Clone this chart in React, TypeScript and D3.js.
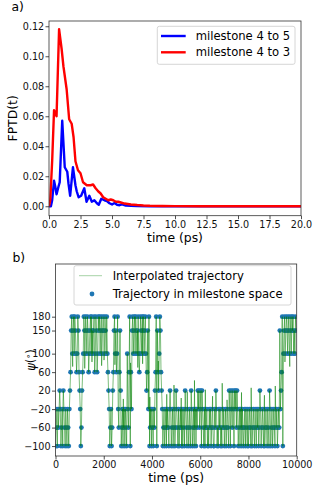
import React, { useEffect, useRef } from "react";
import * as d3 from "d3";

const FONT = "DejaVu Sans, sans-serif";

// a) first passage time distributions (time in ps)
const fptdTime45 = [0, 0.15, 0.25, 0.4, 0.5, 0.6, 0.75, 0.85, 1.05, 1.25, 1.45, 1.55, 1.68, 1.9, 2.1, 2.2, 2.35, 2.55, 2.8, 2.98, 3.2, 3.4, 3.6, 3.8, 3.95, 4.15, 4.4, 4.6, 4.8, 5.0, 5.2, 5.4, 5.6, 5.8, 6.1, 6.5, 7, 8, 20];
const fptd45 = [0, 0, 0.004, 0.017, 0.013, 0.008, 0.013, 0.016, 0.057, 0.026, 0.023, 0.015, 0.007, 0.026, 0.014, 0.01, 0.006, 0.007, 0.012, 0.003, 0.007, 0.003, 0.004, 0.002, 0.001, 0.005, 0.004, 0.0035, 0.002, 0.0012, 0.0022, 0.001, 0.0007, 0.0012, 0.0004, 0.0003, 0.0001, 0, 0];

const fptdTime43 = [0, 0.1, 0.25, 0.4, 0.5, 0.6, 0.8, 1.0, 1.15, 1.4, 1.6, 1.8, 1.95, 2.1, 2.3, 2.5, 2.7, 3.0, 3.3, 3.5, 3.7, 3.9, 4.1, 4.3, 4.5, 4.7, 4.9, 5.1, 5.3, 5.5, 5.7, 6.0, 6.5, 7.0, 7.5, 8.0, 9.0, 10, 12, 20];
const fptd43 = [0, 0.004, 0.03, 0.064, 0.062, 0.06, 0.118, 0.105, 0.093, 0.078, 0.058, 0.055, 0.046, 0.03, 0.024, 0.022, 0.016, 0.014, 0.014, 0.0145, 0.012, 0.01, 0.0085, 0.006, 0.005, 0.004, 0.0045, 0.004, 0.003, 0.003, 0.0025, 0.0018, 0.0012, 0.0008, 0.0005, 0.0003, 0.0002, 0.0001, 0, 0];

const fptdXTicks = [0, 2.5, 5, 7.5, 10, 12.5, 15, 17.5, 20];
const fptdYTicks = [0, 0.02, 0.04, 0.06, 0.08, 0.1, 0.12];

// b) trajectory in milestone space, one code per saved frame
const milestoneCodes = ["a", "b", "c", "d", "e", "f", "g", "h"];
const milestoneAngles = [-100, -60, -20, 20, 60, 100, 150, 180];
const frameStep = 25; // ps between saved frames
const trajectory = [
  "acbacbcdcabcadcbacbacbacdeghfghfhgfefhgedcabdefhgf",
  "hgfhgefghfhgfghefhgefhghfghfghgfhgfhfedcabcabdeghf",
  "gefhcbegdabcabcacbafcbehaecghfghfhgfghfefhgfhghfgh",
  "fdegchabcacbacbdehagedfhgedcabcabcabcbacdcabcabcab",
  "dcbacabcbacabcadcbacbacbadcabcabcacbdcdbcdadcbacab",
  "bcabacbcabcbaacbdcabacbcabacbcabcabcbadcadcbdcadcd",
  "bdcabcacbacbabcacbacabcbacabcbacbacbcabdcabcbacabc",
  "bacbadcabcabcbacbcabcbgcdehafghfghgfhgfhgfhghfgfhg",
].join("");

// excursions of the interpolated angle beyond the milestones
const overshootTimes = [312, 712, 1212, 1512, 1912, 2012, 2462, 2812, 3112, 3412, 3612, 3912, 4262, 4612, 4912, 5212, 5462, 5762, 6212, 6512, 6912, 7112, 7712, 8112, 8662, 9112, 9512, 9712];
const overshootAngles = [-4, 72, 68, 82, 74, 86, 76, 2, 80, 70, 78, 6, 84, 12, 32, 4, 18, 42, 22, 8, 36, 0, 16, 26, 10, 30, 82, 72];

const trajXTicks = [0, 2000, 4000, 6000, 8000, 10000];
const trajYTicks = [180, 150, 100, 60, 20, -20, -60, -100];

const minus = (s: string) => s.replace("-", "\u2212");

function styleAxis(g: any) {
  g.select(".domain").remove();
  g.selectAll(".tick line").attr("stroke", "#222").attr("stroke-width", 0.8);
  g.selectAll(".tick text")
    .attr("font-family", FONT)
    .attr("font-size", 9.6)
    .attr("fill", "#111");
}

function frame(svg: any, l: number, r: number, t: number, b: number) {
  svg
    .append("rect")
    .attr("x", l)
    .attr("y", t)
    .attr("width", r - l)
    .attr("height", b - t)
    .attr("fill", "none")
    .attr("stroke", "#333")
    .attr("stroke-width", 0.8);
}

function drawFptd(svg: any) {
  const m = { left: 49, right: 301, top: 21, bottom: 215.7 };
  const x = d3.scaleLinear().domain([0, 20]).range([m.left, m.right]);
  const y = d3.scaleLinear().domain([-0.0063, 0.1235]).range([m.bottom, m.top]);

  svg
    .append("clipPath")
    .attr("id", "clip-a")
    .append("rect")
    .attr("x", m.left)
    .attr("y", m.top)
    .attr("width", m.right - m.left)
    .attr("height", m.bottom - m.top);

  const line = d3
    .line<number[]>()
    .x(d => x(d[0]))
    .y(d => y(d[1]));

  const series = [
    { t: fptdTime45, v: fptd45, color: "#0000ff", label: "milestone 4 to 5" },
    { t: fptdTime43, v: fptd43, color: "#ff0000", label: "milestone 4 to 3" },
  ];

  series.forEach(s => {
    svg
      .append("path")
      .attr("clip-path", "url(#clip-a)")
      .attr("d", line(s.t.map((t, i) => [t, s.v[i]])))
      .attr("fill", "none")
      .attr("stroke", s.color)
      .attr("stroke-width", 2.4)
      .attr("stroke-linejoin", "round");
  });

  frame(svg, m.left, m.right, m.top, m.bottom);

  svg
    .append("g")
    .attr("transform", `translate(0,${m.bottom})`)
    .call(d3.axisBottom(x).tickValues(fptdXTicks).tickFormat(d3.format(".1f")).tickSize(3.5).tickPadding(1.5))
    .call(styleAxis);

  svg
    .append("g")
    .attr("transform", `translate(${m.left},0)`)
    .call(d3.axisLeft(y).tickValues(fptdYTicks).tickFormat(d3.format(".2f")).tickSize(3.5).tickPadding(1.3))
    .call(styleAxis);

  svg
    .append("text")
    .attr("x", (m.left + m.right) / 2)
    .attr("y", 241.5)
    .attr("text-anchor", "middle")
    .attr("font-family", FONT)
    .attr("font-size", 12.4)
    .text("time (ps)");

  svg
    .append("text")
    .attr("transform", `translate(17,${(m.top + m.bottom) / 2}) rotate(-90)`)
    .attr("text-anchor", "middle")
    .attr("font-family", FONT)
    .attr("font-size", 12.4)
    .text("FPTD(t)");

  svg
    .append("text")
    .attr("x", 11.5)
    .attr("y", 11)
    .attr("font-family", FONT)
    .attr("font-size", 12.4)
    .text("a)");

  // legend
  const lg = svg.append("g");
  lg.append("rect")
    .attr("x", 157.3)
    .attr("y", 26.3)
    .attr("width", 137.7)
    .attr("height", 38)
    .attr("rx", 2)
    .attr("fill", "#fff")
    .attr("fill-opacity", 0.8)
    .attr("stroke", "#ccc")
    .attr("stroke-width", 0.8);
  series.forEach((s, i) => {
    const yy = 36 + i * 16.3;
    lg.append("line")
      .attr("x1", 161)
      .attr("x2", 185.7)
      .attr("y1", yy)
      .attr("y2", yy)
      .attr("stroke", s.color)
      .attr("stroke-width", 2.4);
    lg.append("text")
      .attr("x", 195.7)
      .attr("y", yy + 4)
      .attr("font-family", FONT)
      .attr("font-size", 11.6)
      .text(s.label);
  });
}

function drawTrajectory(svg: any) {
  const m = { left: 55.5, right: 296.7, top: 264, bottom: 456 };
  const x = d3.scaleLinear().domain([0, 10000]).range([m.left, m.right]);
  const y = d3.scaleLinear().domain([-121.5, 294]).range([m.bottom, m.top]);

  const level = new Map(milestoneCodes.map((c, i) => [c, milestoneAngles[i]]));
  const frames = trajectory.split("").map((c, i) => [i * frameStep, level.get(c) as number]);
  const interp = frames
    .concat(overshootTimes.map((t, i) => [t, overshootAngles[i]]))
    .sort((p, q) => p[0] - q[0]);

  svg
    .append("clipPath")
    .attr("id", "clip-b")
    .append("rect")
    .attr("x", m.left)
    .attr("y", m.top)
    .attr("width", m.right - m.left)
    .attr("height", m.bottom - m.top);

  svg
    .append("g")
    .attr("clip-path", "url(#clip-b)")
    .selectAll("circle")
    .data(frames)
    .join("circle")
    .attr("cx", (d: number[]) => x(d[0]))
    .attr("cy", (d: number[]) => y(d[1]))
    .attr("r", 2.4)
    .attr("fill", "#1f77b4");

  const line = d3
    .line<number[]>()
    .x(d => x(d[0]))
    .y(d => y(d[1]));

  svg
    .append("path")
    .attr("clip-path", "url(#clip-b)")
    .attr("d", line(interp))
    .attr("fill", "none")
    .attr("stroke", "green")
    .attr("stroke-opacity", 0.75)
    .attr("stroke-width", 0.7);

  frame(svg, m.left, m.right, m.top, m.bottom);

  svg
    .append("g")
    .attr("transform", `translate(0,${m.bottom})`)
    .call(d3.axisBottom(x).tickValues(trajXTicks).tickFormat(d3.format("d")).tickSize(3.5).tickPadding(1.5))
    .call(styleAxis);

  svg
    .append("g")
    .attr("transform", `translate(${m.left},0)`)
    .call(d3.axisLeft(y).tickValues(trajYTicks).tickFormat((d: any) => minus(String(d))).tickSize(3.5).tickPadding(1.5))
    .call(styleAxis);

  svg
    .append("text")
    .attr("x", (m.left + m.right) / 2)
    .attr("y", 481.5)
    .attr("text-anchor", "middle")
    .attr("font-family", FONT)
    .attr("font-size", 12.4)
    .text("time (ps)");

  const yl = svg
    .append("text")
    .attr("transform", `translate(35,${(m.top + m.bottom) / 2}) rotate(-90)`)
    .attr("text-anchor", "middle")
    .attr("font-family", FONT)
    .attr("font-size", 11.5);
  yl.append("tspan").attr("font-style", "italic").text("\u03c8");
  yl.append("tspan").text("(");
  yl.append("tspan").attr("font-size", 8).attr("dy", -4).text("\u2218");
  yl.append("tspan").attr("dy", 4).text(")");

  svg
    .append("text")
    .attr("x", 12.5)
    .attr("y", 261.5)
    .attr("font-family", FONT)
    .attr("font-size", 12.4)
    .text("b)");

  // legend
  const lg = svg.append("g");
  lg.append("rect")
    .attr("x", 74)
    .attr("y", 265.7)
    .attr("width", 217)
    .attr("height", 39.3)
    .attr("rx", 2)
    .attr("fill", "#fff")
    .attr("fill-opacity", 0.8)
    .attr("stroke", "#ccc")
    .attr("stroke-width", 0.8);
  lg.append("line")
    .attr("x1", 79)
    .attr("x2", 102)
    .attr("y1", 275.7)
    .attr("y2", 275.7)
    .attr("stroke", "green")
    .attr("stroke-opacity", 0.5)
    .attr("stroke-width", 0.7);
  lg.append("circle").attr("cx", 92).attr("cy", 294).attr("r", 2.4).attr("fill", "#1f77b4");
  lg.append("text")
    .attr("x", 112.7)
    .attr("y", 279.8)
    .attr("font-family", FONT)
    .attr("font-size", 11.6)
    .text("Interpolated trajectory");
  lg.append("text")
    .attr("x", 112.7)
    .attr("y", 298.2)
    .attr("font-family", FONT)
    .attr("font-size", 11.6)
    .text("Trajectory in milestone space");
}

export default function App() {
  const chartRef = useRef<SVGSVGElement>(null);

  useEffect(() => {
    const svg = d3.select(chartRef.current);
    drawFptd(svg.append("g"));
    drawTrajectory(svg.append("g"));
    return () => {
      svg.html("");
    };
  }, []);

  return (
    <svg
      ref={chartRef}
      width={320}
      height={492}
      style={{ position: "absolute", left: 0, top: 0, background: "#fff" }}
    />
  );
}
